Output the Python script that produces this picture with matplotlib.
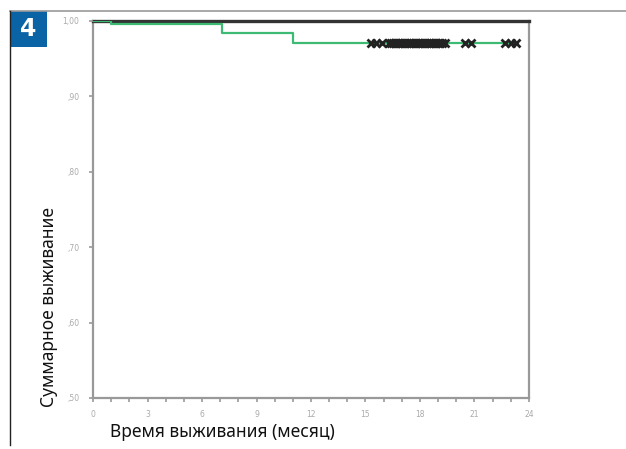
import matplotlib.pyplot as plt
from matplotlib.patches import Rectangle
from matplotlib.lines import Line2D

# step points of the survival curve (months, cumulative survival)
step_times = [0, 1.0, 7.1, 11.0, 23.4]
step_surv = [1.0, 0.996, 0.983, 0.971, 0.971]

# censored observations (all at the last survival level)
censored = [15.3, 15.6, 15.9, 16.3,
            16.4, 16.5, 16.6, 16.7, 16.8, 16.9, 17.0, 17.1, 17.2, 17.3,
            17.4, 17.5, 17.6, 17.7, 17.8, 17.9, 18.0, 18.1, 18.2, 18.3,
            18.4, 18.5, 18.6, 18.7, 18.8, 18.9, 19.0, 19.1, 19.2, 19.4,
            20.5, 20.8, 22.7, 23.0, 23.3]

y_ticks = [0.5, 0.6, 0.7, 0.8, 0.9, 1.0]
y_labels = [',50', ',60', ',70', ',80', ',90', '1,00']
x_ticks = [0, 3, 6, 9, 12, 15, 18, 21, 24]

fig = plt.figure(figsize=(6.26, 4.49), dpi=100)
ax = fig.add_axes([0.1486, 0.1136, 0.6964, 0.8404])

ax.step(step_times, step_surv, where='post', color='#3dbb74', lw=1.6, zorder=2)
ax.plot(censored, [0.971] * len(censored), 'x', color='#222222',
        ms=6, mew=2.0, zorder=3)

ax.set_xlim(0, 24)
ax.set_ylim(0.5, 1.0)
ax.set_yticks(y_ticks)
ax.set_yticklabels(y_labels)
ax.set_xticks(x_ticks)
ax.set_xticks(range(25), minor=True)
ax.tick_params(axis='both', which='both', length=3, width=1.2, color='#999999',
               labelsize=5.5, labelcolor='#aaaaaa', direction='out')
ax.tick_params(axis='x', pad=6)
ax.tick_params(axis='y', pad=7)

for s in ['left', 'bottom', 'right']:
    ax.spines[s].set_color('#999999')
    ax.spines[s].set_linewidth(1.6)
ax.spines['top'].set_color('#333333')
ax.spines['top'].set_linewidth(2.4)
ax.set_zorder(1)
for sp in ax.spines.values():
    sp.set_zorder(1)

fig.text(0.176, 0.038, 'Время выживания (месяц)', fontsize=12.5,
         family='Noto Sans', color='#111111', ha='left', va='center')
fig.text(0.079, 0.316, 'Суммарное выживание', fontsize=12.5,
         family='Noto Sans', color='#111111', rotation=90, ha='center', va='center')

# page frame: top rule, left rule and the figure number box
fig.add_artist(Line2D([10 / 626, 1], [1 - 11 / 449, 1 - 11 / 449],
                      transform=fig.transFigure, color='#999999', lw=1.2))
fig.add_artist(Line2D([10 / 626, 10 / 626], [1 - 11 / 449, 4 / 449],
                      transform=fig.transFigure, color='#222222', lw=1.0))
fig.add_artist(Rectangle((10 / 626, 1 - 47 / 449), 37 / 626, 36 / 449,
                         transform=fig.transFigure, facecolor='#0a63a5',
                         edgecolor='none'))
fig.text(28.5 / 626, 1 - 29 / 449, '4', fontsize=17, fontweight='bold',
         family='DejaVu Sans', color='white', ha='center', va='center')

fig.savefig('out.png', dpi=100)
